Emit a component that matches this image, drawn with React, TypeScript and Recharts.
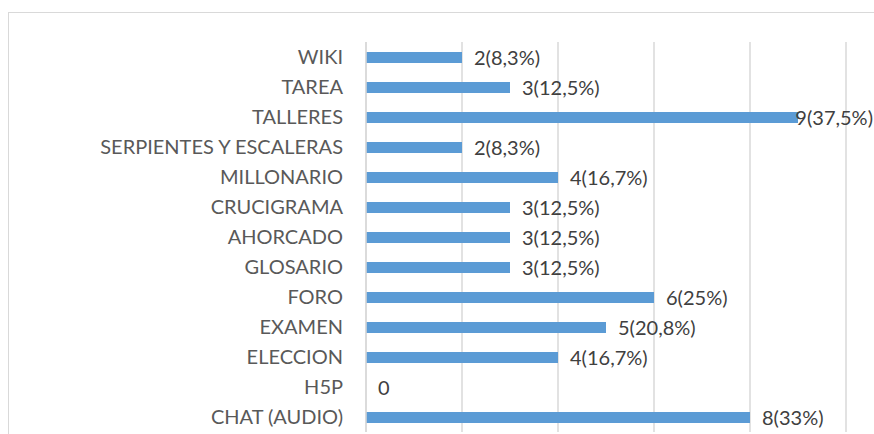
import React from "react";
import {
  BarChart,
  Bar,
  XAxis,
  YAxis,
  CartesianGrid,
  LabelList,
} from "recharts";

const activities = [
  "WIKI",
  "TAREA",
  "TALLERES",
  "SERPIENTES Y ESCALERAS",
  "MILLONARIO",
  "CRUCIGRAMA",
  "AHORCADO",
  "GLOSARIO",
  "FORO",
  "EXAMEN",
  "ELECCION",
  "H5P",
  "CHAT (AUDIO)",
];
const counts = [2, 3, 9, 2, 4, 3, 3, 3, 6, 5, 4, 0, 8];
const percents = [
  "8,3%",
  "12,5%",
  "37,5%",
  "8,3%",
  "16,7%",
  "12,5%",
  "12,5%",
  "12,5%",
  "25%",
  "20,8%",
  "16,7%",
  "",
  "33%",
];
const xTicks = [0, 2, 4, 6, 8, 10];

const data = activities.map((name, i) => ({
  name,
  value: counts[i],
  label: percents[i] ? `${counts[i]}(${percents[i]})` : `${counts[i]}`,
}));

const FONT = "Lato, sans-serif";
const CHART_W = 900;
const VISIBLE_W = 866; // chart-space x of the window's right edge

const ValueLabel = (props: any) => {
  const { x, y, width, height, value } = props;
  let tx = x + width + 12;
  let anchor: "start" | "end" = "start";
  // keep labels of long bars inside the visible area
  if (tx + 76 > VISIBLE_W) {
    tx = VISIBLE_W - 1;
    anchor = "end";
  }
  return (
    <text
      x={tx}
      y={y + height / 2}
      dy={7}
      fill="#404040"
      fontSize={20}
      fontFamily={FONT}
      textAnchor={anchor}
    >
      {value}
    </text>
  );
};

const App: React.FC = () => {
  return (
    <div
      style={{
        position: "fixed",
        left: 0,
        top: 0,
        width: 874,
        height: 434,
        overflow: "hidden",
        background: "#fff",
      }}
    >
      {/* chart frame */}
      <div
        style={{
          position: "absolute",
          left: 8,
          top: 12,
          width: CHART_W,
          height: 500,
          border: "1px solid #d9d9d9",
          boxSizing: "border-box",
        }}
      />
      <div style={{ position: "absolute", left: 8, top: 8 }}>
        <BarChart
          width={CHART_W}
          height={500}
          data={data}
          layout="vertical"
          margin={{ top: 34, right: 62, bottom: 76, left: 0 }}
          barSize={11}
        >
          <CartesianGrid horizontal={false} stroke="#d9d9d9" strokeWidth={1.5} />
          <XAxis type="number" domain={[0, 10]} ticks={xTicks} hide />
          <YAxis
            type="category"
            dataKey="name"
            width={358}
            axisLine={{ stroke: "#d9d9d9", strokeWidth: 1.5 }}
            tickLine={false}
            tickSize={0}
            tickMargin={23}
            interval={0}
            tick={{ fill: "#595959", fontSize: 20, fontFamily: FONT }}
          />
          <Bar
            dataKey="value"
            fill="#5b9bd5"
            minPointSize={0.01}
            isAnimationActive={false}
          >
            <LabelList dataKey="label" content={<ValueLabel />} />
          </Bar>
        </BarChart>
      </div>
    </div>
  );
};

export default App;
